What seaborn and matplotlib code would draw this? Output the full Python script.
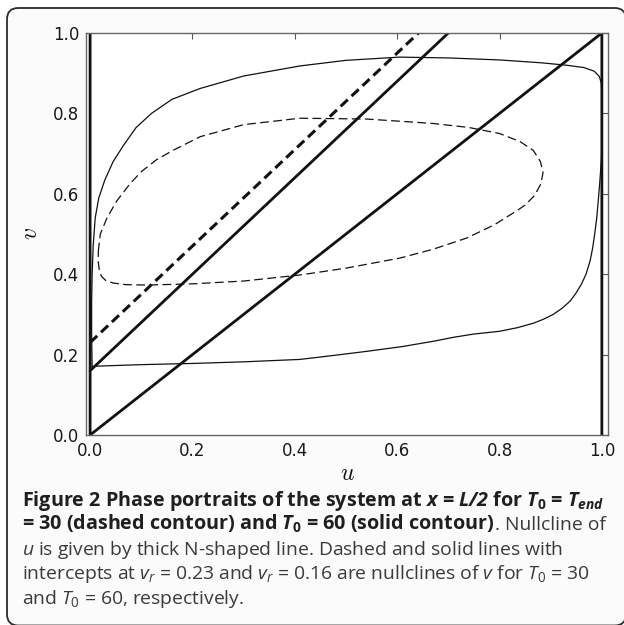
import numpy as np
import pandas as pd
import seaborn as sns
import matplotlib
matplotlib.use("Agg")
import matplotlib.pyplot as plt
from matplotlib.patches import FancyBboxPatch

# ---------------- data ----------------
# N-shaped nullcline of u (u=0, diagonal, u=1)
null_u_u = [0.0, 0.0, 1.0, 1.0]
null_u_v = [1.0, 0.0, 1.0, 0.0]

# nullclines of v: v = v_r + slope*u
vr_T30 = 0.23
vr_T60 = 0.16
slope_v = 1.2
u_line = [0.0, 1.0]

# phase portrait, T0 = 60 (solid contour)
u60 = [0.004, 0.003, 0.003, 0.004, 0.006, 0.010, 0.017, 0.029, 0.045, 0.065,
       0.090, 0.120, 0.160, 0.215, 0.300, 0.410, 0.500, 0.605, 0.700, 0.800,
       0.880, 0.930, 0.965, 0.985, 0.995, 0.999, 1.000, 1.000, 0.999, 0.996,
       0.993, 0.990, 0.986, 0.982, 0.977, 0.969, 0.960, 0.949, 0.938, 0.922,
       0.905, 0.886, 0.866, 0.835, 0.800, 0.749, 0.710, 0.670, 0.610, 0.540,
       0.470, 0.410, 0.300, 0.200, 0.100, 0.030, 0.008, 0.004]
v60 = [0.170, 0.250, 0.330, 0.400, 0.470, 0.540, 0.590, 0.635, 0.680, 0.720,
       0.765, 0.800, 0.835, 0.862, 0.893, 0.918, 0.932, 0.940, 0.938, 0.933,
       0.926, 0.920, 0.914, 0.905, 0.892, 0.875, 0.850, 0.720, 0.683, 0.630,
       0.583, 0.540, 0.500, 0.465, 0.433, 0.400, 0.375, 0.352, 0.333, 0.315,
       0.300, 0.288, 0.278, 0.267, 0.258, 0.251, 0.243, 0.233, 0.220, 0.208,
       0.197, 0.188, 0.182, 0.178, 0.175, 0.172, 0.171, 0.170]

# phase portrait, T0 = 30 (dashed contour)
u30 = [0.016, 0.020, 0.033, 0.052, 0.078, 0.100, 0.130, 0.162, 0.215, 0.300,
       0.410, 0.540, 0.670, 0.740, 0.800, 0.840, 0.866, 0.880, 0.885, 0.881,
       0.868, 0.850, 0.834, 0.790, 0.736, 0.670, 0.605, 0.500, 0.410, 0.300,
       0.200, 0.110, 0.070, 0.045, 0.030, 0.022, 0.018, 0.016, 0.016]
v30 = [0.457, 0.500, 0.540, 0.582, 0.625, 0.655, 0.685, 0.708, 0.742, 0.772,
       0.788, 0.786, 0.775, 0.765, 0.750, 0.730, 0.708, 0.680, 0.653, 0.625,
       0.595, 0.572, 0.558, 0.523, 0.490, 0.462, 0.440, 0.415, 0.398, 0.383,
       0.376, 0.373, 0.374, 0.378, 0.385, 0.395, 0.410, 0.430, 0.457]

xticks = [0.0, 0.2, 0.4, 0.6, 0.8, 1.0]
yticks = [0.0, 0.2, 0.4, 0.6, 0.8, 1.0]

# caption: each line is a list of (text, weight) runs
caption_lines = [
    [(r"Figure 2 Phase portraits of the system at $\mathbfit{x}$ = $\mathbfit{L/2}$ for "
      r"$\mathbfit{T}_{\mathbf{0}}$ = $\mathbfit{T}_{\mathbfit{end}}$", "bold")],
    [(r"= 30 (dashed contour) and $\mathbfit{T}_{\mathbf{0}}$ = 60 (solid contour)", "bold"),
     (". Nullcline of", "normal")],
    [(r"$\mathit{u}$ is given by thick N-shaped line. Dashed and solid lines with", "normal")],
    [(r"intercepts at $\mathit{v}_{\mathit{r}}$ = 0.23 and $\mathit{v}_{\mathit{r}}$ = 0.16 "
      r"are nullclines of $\mathit{v}$ for $\mathit{T}_{0}$ = 30", "normal")],
    [(r"and $\mathit{T}_{0}$ = 60, respectively.", "normal")],
]

# ---------------- style ----------------
sns.set_style("white")
plt.rcParams.update({
    "font.family": ["DejaVu Sans"],
    "mathtext.fontset": "custom",
    "mathtext.rm": "Open Sans",
    "mathtext.it": "Open Sans:italic",
    "mathtext.bf": "Open Sans:bold",
    "mathtext.bfit": "Open Sans:italic:bold",
    "xtick.direction": "in",
    "ytick.direction": "in",
})

W, H = 624, 625
fig = plt.figure(figsize=(W / 100, H / 100), dpi=100, facecolor="white")

# rounded frame around the whole figure
box = FancyBboxPatch((7 / W, 1 - 625.5 / H), (626 - 7) / W, (625.5 - 8) / H,
                     boxstyle="round,pad=0,rounding_size=0.018",
                     transform=fig.transFigure, facecolor="#fbfbfb",
                     edgecolor="#2b2b2b", linewidth=1.3, clip_on=False,
                     zorder=-10)
fig.patches.append(box)

ax = fig.add_axes([86 / W, 1 - 435 / H, (608 - 86) / W, (435 - 33) / H])
ax.set_zorder(1)
ax.set_facecolor("white")

black = "#111111"
# contours
sns.lineplot(x=u60, y=v60, sort=False, estimator=None, ax=ax,
             color=black, linewidth=0.9)
sns.lineplot(x=u30, y=v30, sort=False, estimator=None, ax=ax,
             color=black, linewidth=0.9, linestyle=(0, (7, 3.5)))
# nullcline of u
sns.lineplot(x=null_u_u, y=null_u_v, sort=False, estimator=None, ax=ax,
             color=black, linewidth=2.0)
# nullclines of v
sns.lineplot(x=u_line, y=[vr_T60 + slope_v * u for u in u_line], sort=False,
             estimator=None, ax=ax, color=black, linewidth=2.0)
sns.lineplot(x=u_line, y=[vr_T30 + slope_v * u for u in u_line], sort=False,
             estimator=None, ax=ax, color=black, linewidth=2.2,
             linestyle=(0, (3.2, 1.7)))

ax.set_xlim(-0.008, 1.012)
ax.set_ylim(0.0, 1.0)
ax.set_xticks(xticks)
ax.set_yticks(yticks)
ax.set_xticklabels([f"{t:.1f}" for t in xticks])
ax.set_yticklabels([f"{t:.1f}" for t in yticks])
ax.tick_params(axis="both", which="both", direction="in", top=True, right=True,
               length=4, width=0.8, color="#555555", labelsize=12,
               labelcolor="#1a1a1a", pad=5)
for sp in ax.spines.values():
    sp.set_visible(True)
    sp.set_color("#666666")
    sp.set_linewidth(1.0)

ax.set_xlabel(r"$u$", fontsize=17, math_fontfamily="cm", labelpad=1, color=black)
ax.set_ylabel(r"$v$", fontsize=17, math_fontfamily="cm", labelpad=8, color=black)

# caption
renderer = fig.canvas.get_renderer()
baselines = [506, 530, 555, 579, 604]
for runs, yb in zip(caption_lines, baselines):
    x = 22
    for txt, weight in runs:
        t = fig.text(x / W, 1 - yb / H, txt,
                     fontsize=14.2 if weight == "bold" else 13.9,
                     family="Open Sans", fontweight=weight,
                     color="#1f1f1f" if weight == "bold" else "#3a3a3a",
                     va="baseline", ha="left")
        x = t.get_window_extent(renderer).x1

fig.savefig("out.png", dpi=100, facecolor="white")
